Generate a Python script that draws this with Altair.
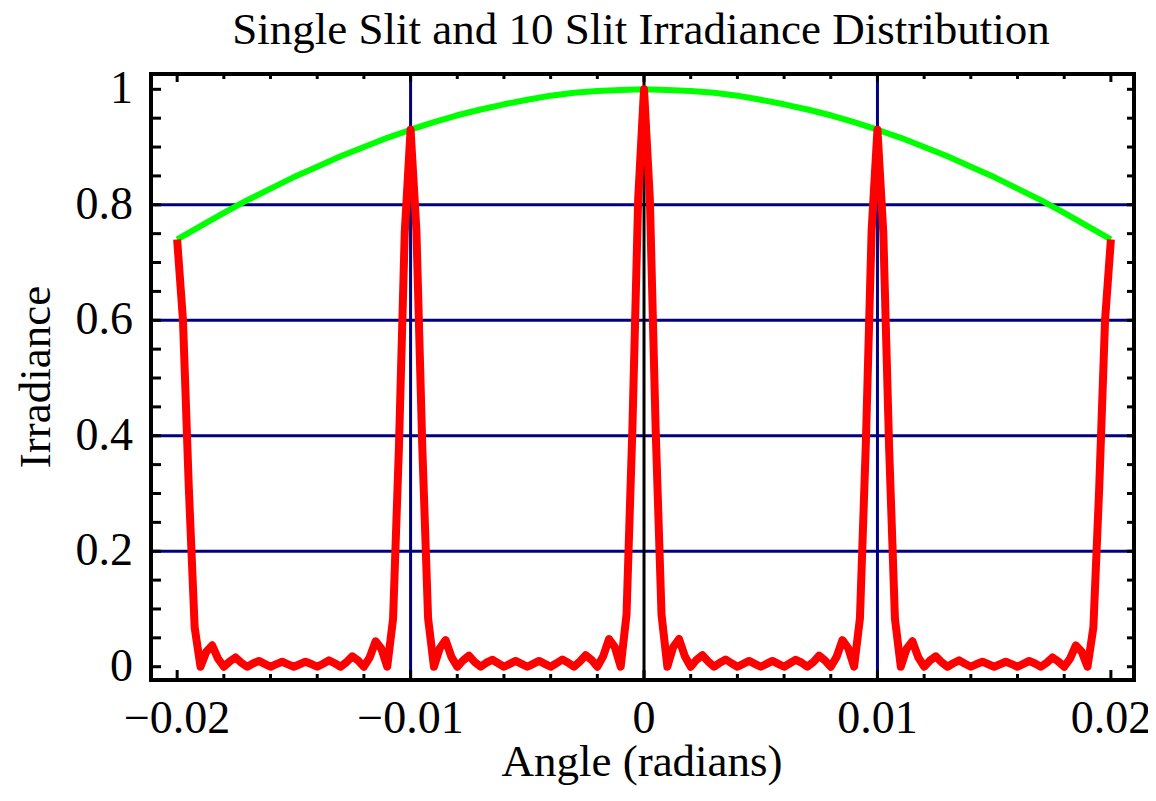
import altair as alt
import pandas as pd

# ---------------- data ----------------
# Red curve: 10-slit irradiance, sampled every 0.00025 rad from -0.02 to 0.02
red_irr = [
    0.74, 0.60, 0.31, 0.068, 0, 0.026, 0.037, 0.014, 0, 0.009, 0.016, 0.007, 0, 0.0056,
    0.010, 0.005, 0, 0.0044, 0.0086, 0.0042, 0, 0.0043, 0.0087, 0.0046, 0, 0.0051, 0.011,
    0.006, 0, 0.0077, 0.018, 0.0107, 0, 0.016, 0.044, 0.031, 0, 0.083, 0.379, 0.752, 0.93,
    0.755, 0.383, 0.084, 0, 0.032, 0.046, 0.017, 0, 0.011, 0.019, 0.008, 0, 0.007, 0.012,
    0.006, 0, 0.005, 0.010, 0.005, 0, 0.005, 0.010, 0.005, 0, 0.006, 0.0125, 0.007, 0,
    0.009, 0.020, 0.012, 0, 0.018, 0.048, 0.034, 0, 0.09, 0.409, 0.81, 1.0,
    0.81, 0.409, 0.09, 0, 0.034, 0.048, 0.018, 0, 0.012, 0.020, 0.009, 0, 0.007, 0.0125,
    0.006, 0, 0.005, 0.010, 0.005, 0, 0.005, 0.010, 0.005, 0, 0.006, 0.012, 0.007, 0,
    0.008, 0.019, 0.011, 0, 0.017, 0.046, 0.032, 0, 0.084, 0.383, 0.755, 0.93,
    0.752, 0.379, 0.083, 0, 0.031, 0.044, 0.016, 0, 0.0107, 0.018, 0.0077, 0, 0.006, 0.011,
    0.0051, 0, 0.0046, 0.0087, 0.0043, 0, 0.0042, 0.0086, 0.0044, 0, 0.005, 0.010, 0.0056,
    0, 0.007, 0.016, 0.009, 0, 0.014, 0.037, 0.026, 0, 0.068, 0.31, 0.60, 0.74,
]
red_angle = [round(-0.02 + i * 0.00025, 5) for i in range(len(red_irr))]

# Green curve: single slit envelope
green_angle = [-0.020, -0.019, -0.018, -0.017, -0.016, -0.015, -0.014, -0.013, -0.012, -0.011,
               -0.010, -0.009, -0.008, -0.007, -0.006, -0.005, -0.004, -0.003, -0.002, -0.001,
               0.0, 0.001, 0.002, 0.003, 0.004, 0.005, 0.006, 0.007, 0.008, 0.009, 0.010,
               0.011, 0.012, 0.013, 0.014, 0.015, 0.016, 0.017, 0.018, 0.019, 0.020]
green_irr = [0.740, 0.763, 0.786, 0.808, 0.828, 0.848, 0.866, 0.884, 0.900, 0.916,
             0.930, 0.943, 0.955, 0.965, 0.974, 0.982, 0.989, 0.994, 0.997, 0.999,
             1.000, 0.999, 0.997, 0.994, 0.989, 0.982, 0.974, 0.965, 0.955, 0.943, 0.930,
             0.916, 0.900, 0.884, 0.866, 0.848, 0.828, 0.808, 0.786, 0.763, 0.740]

x_labels = [-0.02, -0.01, 0.0, 0.01, 0.02]
x_label_text = ["\u22120.02", "\u22120.01", "0", "0.01", "0.02"]
x_minor = [-0.018, -0.016, -0.014, -0.012, -0.008, -0.006, -0.004, -0.002,
           0.002, 0.004, 0.006, 0.008, 0.012, 0.014, 0.016, 0.018]
y_labels = [0.0, 0.2, 0.4, 0.6, 0.8, 1.0]
y_label_text = ["0", "0.2", "0.4", "0.6", "0.8", "1"]
y_ticks = [0.0, 0.05, 0.1, 0.15, 0.2, 0.25, 0.3, 0.35, 0.4, 0.45, 0.5, 0.55, 0.6,
           0.65, 0.7, 0.75, 0.8, 0.85, 0.9, 0.95, 1.0]
h_grid = [0.2, 0.4, 0.6, 0.8]
v_grid_navy = [-0.01, 0.01]
v_grid_black = [0.0]

TITLE = "Single Slit and 10 Slit Irradiance Distribution"
X_TITLE = "Angle (radians)"
Y_TITLE = "Irradiance"

# ---------------- chart ----------------
W, H = 983, 606
NAVY = "#000080"
FONT = "Liberation Serif"
xs = alt.Scale(domain=[-0.02112, 0.02099], nice=False, zero=False)
ys = alt.Scale(domain=[-0.023, 1.0265], nice=False, zero=False)

hgrid = alt.Chart(pd.DataFrame({"v": h_grid})).mark_rule(color=NAVY, strokeWidth=3).encode(
    y=alt.Y("v:Q", scale=ys, axis=None), x=alt.value(0), x2=alt.value(W))
vgrid = alt.Chart(pd.DataFrame({"a": v_grid_navy})).mark_rule(color=NAVY, strokeWidth=3).encode(
    x=alt.X("a:Q", scale=xs, axis=None), y=alt.value(0), y2=alt.value(H))
vzero = alt.Chart(pd.DataFrame({"a": v_grid_black})).mark_rule(color="black", strokeWidth=3).encode(
    x=alt.X("a:Q", scale=xs, axis=None), y=alt.value(0), y2=alt.value(H))

green = alt.Chart(pd.DataFrame({"a": green_angle, "v": green_irr})).mark_line(
    color="#00FF00", strokeWidth=6, strokeJoin="round").encode(
    x=alt.X("a:Q", scale=xs, axis=None), y=alt.Y("v:Q", scale=ys, axis=None))
red = alt.Chart(pd.DataFrame({"a": red_angle, "v": red_irr})).mark_line(
    color="#FF0000", strokeWidth=8, strokeJoin="round").encode(
    x=alt.X("a:Q", scale=xs, axis=None), y=alt.Y("v:Q", scale=ys, axis=None))


def xticks(vals, y0, y1):
    return alt.Chart(pd.DataFrame({"a": vals})).mark_rule(color="black", strokeWidth=3).encode(
        x=alt.X("a:Q", scale=xs, axis=None), y=alt.value(y0), y2=alt.value(y1))


def yticks(vals, x0, x1):
    return alt.Chart(pd.DataFrame({"v": vals})).mark_rule(color="black", strokeWidth=3).encode(
        y=alt.Y("v:Q", scale=ys, axis=None), x=alt.value(x0), x2=alt.value(x1))


ticks = [
    xticks(x_labels, 0, 8), xticks(x_minor, 0, 5),
    xticks(x_labels, H, H - 10), xticks(x_minor, H, H - 6),
    yticks(y_ticks, 0, 10), yticks(y_ticks, W, W - 7),
]

# tick labels placed through the scales
xlab = alt.Chart(pd.DataFrame({"a": x_labels, "t": x_label_text})).mark_text(
    font=FONT, fontSize=46, color="black", align="center", baseline="alphabetic").encode(
    x=alt.X("a:Q", scale=xs, axis=None), y=alt.value(H + 53), text="t:N")
ylab = alt.Chart(pd.DataFrame({"v": y_labels, "t": y_label_text})).mark_text(
    font=FONT, fontSize=46, color="black", align="right", baseline="middle").encode(
    y=alt.Y("v:Q", scale=ys, axis=None), x=alt.value(-18), text="t:N")

# titles
title_df = pd.DataFrame({"t": [TITLE]})
xt_df = pd.DataFrame({"t": [X_TITLE]})
yt_df = pd.DataFrame({"t": [Y_TITLE]})
title_mark = alt.Chart(title_df).mark_text(
    font=FONT, fontSize=45, color="black", align="center", baseline="alphabetic").encode(
    x=alt.value(490), y=alt.value(-30), text="t:N")
xtitle = alt.Chart(xt_df).mark_text(
    font=FONT, fontSize=45, color="black", align="center", baseline="alphabetic").encode(
    x=alt.value(491), y=alt.value(H + 96), text="t:N")
ytitle = alt.Chart(yt_df).mark_text(
    font=FONT, fontSize=45, color="black", align="center", baseline="alphabetic",
    angle=270).encode(
    x=alt.value(-101), y=alt.value(303), text="t:N")

chart = alt.layer(hgrid, vgrid, vzero, green, red, *ticks, xlab, ylab,
                  title_mark, xtitle, ytitle).properties(
    width=W, height=H,
    background="white",
    autosize=alt.AutoSizeParams(type="none"),
    padding={"left": 143, "top": 66, "right": 14, "bottom": 107},
).configure_view(stroke="black", strokeWidth=4)

chart.save("out.html", embed_options={"renderer": "svg", "actions": False})
